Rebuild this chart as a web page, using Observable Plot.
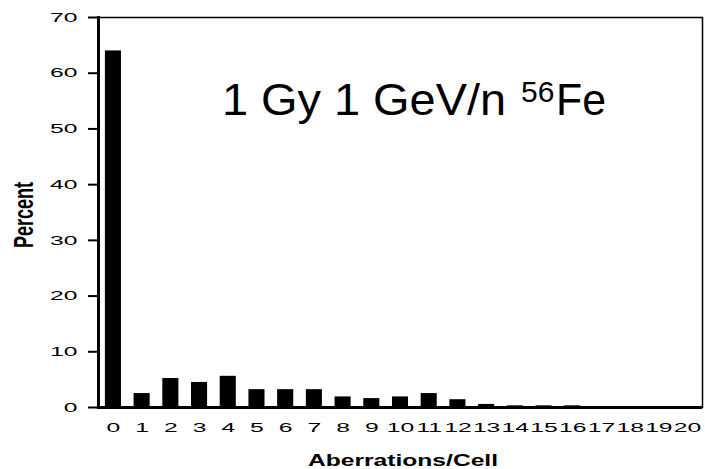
<!DOCTYPE html>
<html>
<head>
<meta charset="utf-8">
<script src="https://cdn.jsdelivr.net/npm/d3@7"></script>
<script src="https://cdn.jsdelivr.net/npm/@observablehq/plot@0.6"></script>
<style>
  html, body { margin: 0; padding: 0; background: #fff; }
  svg { display: block; font-family: Arial, "Liberation Sans", sans-serif; }
</style>
</head>
<body>
<div id="chart"></div>
<script>
// Aberrations per cell after 1 Gy of 1 GeV/n iron ions
const aberrations = d3.range(0, 21);
const percent = [64, 2.5, 5.2, 4.5, 5.6, 3.2, 3.2, 3.2, 1.9, 1.6, 1.9, 2.5, 1.4, 0.55, 0.3, 0.3, 0.3, 0, 0, 0, 0];
const yTicks = [0, 10, 20, 30, 40, 50, 60, 70];

const data = aberrations.map((k, i) => ({k, v: percent[i]}));

const W = 705, H = 469;
const chart = Plot.plot({
  width: W,
  height: H,
  marginLeft: 98,
  marginRight: 3,
  marginTop: 17,
  marginBottom: 62,
  style: {fontFamily: "Arial, 'Liberation Sans', sans-serif", fontSize: "13px", color: "black", background: "white"},
  x: {type: "band", domain: aberrations, paddingInner: 0.44, paddingOuter: 0.24, align: 0.5, round: false, label: null, tickSize: 0, tickPadding: 15},
  y: {domain: [0, 70], ticks: yTicks, tickSize: 10, tickPadding: 11, label: null},
  marks: [
    Plot.barY(data, {x: "k", y: "v", fill: "black"}),
    Plot.frame({stroke: "black", strokeWidth: 1.5}),
    Plot.frame({anchor: "left", stroke: "black", strokeWidth: 3}),
    Plot.ruleY([0], {stroke: "black", strokeWidth: 3})
  ]
});

const svg = d3.select(chart);
// widen the tick labels horizontally
svg.selectAll("g[aria-label='x-axis tick label'] text, g[aria-label='y-axis tick label'] text")
  .attr("transform", function () {
    const t = d3.select(this).attr("transform") || "";
    return t + " scale(1.9,1)";
  });
svg.selectAll("g[aria-label='y-axis tick'] path").attr("stroke-width", 2);

// axis titles
svg.append("text")
  .attr("x", 403).attr("y", 466)
  .attr("text-anchor", "middle")
  .attr("font-weight", "bold").attr("font-size", 17)
  .attr("textLength", 190).attr("lengthAdjust", "spacingAndGlyphs")
  .text("Aberrations/Cell");

svg.append("text")
  .attr("transform", "translate(33,215) scale(1.6,1) rotate(-90)")
  .attr("text-anchor", "middle")
  .attr("font-weight", "bold").attr("font-size", 17)
  .attr("textLength", 66).attr("lengthAdjust", "spacingAndGlyphs")
  .text("Percent");

// annotation inside the plot area
const note = svg.append("text").attr("font-size", 44).attr("y", 115).attr("text-anchor", "start");
note.append("tspan").attr("x", 222)
  .attr("textLength", 284).attr("lengthAdjust", "spacingAndGlyphs")
  .text("1 Gy 1 GeV/n");
note.append("tspan").attr("x", 521).attr("dy", -13).attr("font-size", 30).text("56");
note.append("tspan").attr("x", 556).attr("dy", 13)
  .attr("textLength", 50).attr("lengthAdjust", "spacingAndGlyphs")
  .text("Fe");

document.getElementById("chart").appendChild(chart);
</script>
</body>
</html>
